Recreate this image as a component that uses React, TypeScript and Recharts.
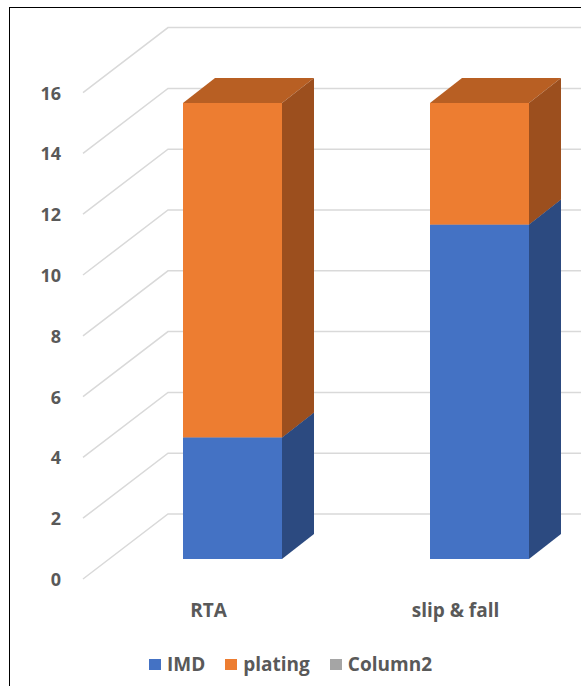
import { BarChart, Bar, XAxis, YAxis, CartesianGrid, Legend } from 'recharts'

const categories = ['RTA', 'slip & fall']
const imdValues = [4, 11]
const platingValues = [11, 4]
const column2Values: (number | null)[] = [null, null]
const yTicks = [0, 2, 4, 6, 8, 10, 12, 14, 16]

const series = [
  { key: 'IMD', front: '#4472C4', side: '#2C4A80', top: '#365D9E' },
  { key: 'plating', front: '#ED7D31', side: '#9C4F1E', top: '#B85F23' },
  { key: 'Column2', front: '#A5A5A5', side: '#6E6E6E', top: '#8A8A8A' },
]

const data = categories.map((name, i) => ({
  name,
  IMD: imdValues[i],
  plating: platingValues[i],
  Column2: column2Values[i],
}))

// depth offset of the 3d boxes
const DX = 32
const DY = 25
const FONT = '"Open Sans", sans-serif'
const TEXT = '#595959'

function Box3D(props: any) {
  const { x, y, width, height, front, side, top } = props
  if (height == null || height <= 0 || isNaN(y)) return null
  const r = x + width
  return (
    <g>
      <polygon
        points={`${x},${y} ${x + DX},${y - DY} ${r + DX},${y - DY} ${r},${y}`}
        fill={top}
      />
      <polygon
        points={`${r},${y} ${r + DX},${y - DY} ${r + DX},${y + height - DY} ${r},${y + height}`}
        fill={side}
      />
      <rect x={x} y={y} width={width} height={height} fill={front} />
    </g>
  )
}

function gridLine(props: any) {
  const { x1, y1, key } = props
  const sx = x1 - 26
  const bx = x1 + 59
  return (
    <path
      key={key}
      d={`M${sx},${y1 + 20} L${bx},${y1 - 45} L640,${y1 - 45}`}
      stroke="#D9D9D9"
      strokeWidth={1.5}
      fill="none"
    />
  )
}

function YTick(props: any) {
  const { y, payload } = props
  return (
    <text x={61} y={y + 20} textAnchor="end" dominantBaseline="central"
      fontFamily={FONT} fontSize={18} fontWeight={700} fill={TEXT}>
      {payload.value}
    </text>
  )
}

function XTick(props: any) {
  const { x, payload } = props
  return (
    <text x={x - 24} y={610} textAnchor="middle" dominantBaseline="central"
      fontFamily={FONT} fontSize={19} fontWeight={700} fill={TEXT}>
      {payload.value}
    </text>
  )
}

function LegendContent() {
  return (
    <div style={{ display: 'flex', justifyContent: 'center', alignItems: 'center',
      fontFamily: FONT, fontSize: 19, fontWeight: 700, color: TEXT }}>
      {series.map((s) => (
        <div key={s.key} style={{ display: 'flex', alignItems: 'center', margin: '0 10px' }}>
          <span style={{ display: 'inline-block', width: 12, height: 11, background: s.front, marginRight: 6 }} />
          <span>{s.key}</span>
        </div>
      ))}
    </div>
  )
}

export default function App() {
  return (
    <div style={{ position: 'absolute', left: 0, top: 0, width: 581, height: 686, overflow: 'hidden', background: '#fff' }}>
      <div style={{ position: 'absolute', left: 9, top: 7, width: 700, height: 800,
        borderLeft: '1px solid #000', borderTop: '1px solid #000' }} />
      <div style={{ position: 'absolute', left: 0, top: 0 }}>
        <BarChart width={620} height={686} data={data}
          margin={{ top: 72.6, right: 17, left: 49, bottom: 87 }}>
          <CartesianGrid vertical={false} horizontal={gridLine} />
          <XAxis dataKey="name" height={40} axisLine={false} tickLine={false} tick={<XTick />} />
          <YAxis width={60} domain={[0, 16]} ticks={yTicks} axisLine={false} tickLine={false} tick={<YTick />} />
          <Legend verticalAlign="middle" content={<LegendContent />}
            wrapperStyle={{ top: 651, left: 0, width: 581 }} />
          {series.map((s) => (
            <Bar key={s.key} dataKey={s.key} stackId="a" barSize={99} isAnimationActive={false}
              fill={s.front}
              shape={(p: any) => <Box3D {...p} front={s.front} side={s.side} top={s.top} />} />
          ))}
        </BarChart>
      </div>
    </div>
  )
}
